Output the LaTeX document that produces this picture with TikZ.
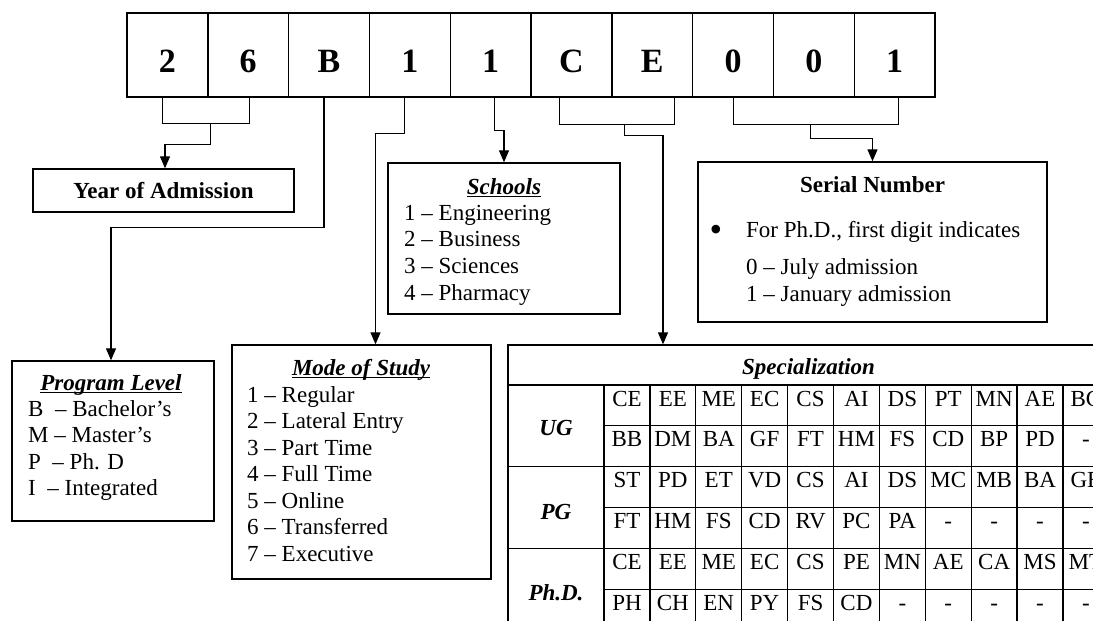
\documentclass[tikz,border=0pt]{standalone}
\usepackage{fontspec}
\setmainfont{Liberation Serif}
\usetikzlibrary{arrows.meta,calc}
\newcommand\myfont{\fontsize{23pt}{26.5pt}\selectfont}
\newcommand\mybig{\fontsize{34pt}{38pt}\selectfont\bfseries}
\newcommand\myul[1]{\leavevmode\setbox0\hbox{#1}\rlap{\rule[-3.2pt]{\wd0}{1.1pt}}\box0}
\begin{document}
\begin{tikzpicture}[x=1pt,y=-1pt,
  box/.style={draw, line width=1.4pt, inner sep=0pt},
  conn/.style={line width=1.3pt},
  arr/.style={conn, -{Triangle[length=12pt,width=10pt]}},
  lbl/.style={inner sep=0pt, font=\myfont, anchor=base west},
  ttl/.style={inner sep=0pt, font=\myfont\bfseries\itshape, anchor=base},
  cell/.style={inner sep=0pt, font=\myfont, anchor=base},
  grid/.style={line width=1.3pt},
]
\useasboundingbox (0,0) rectangle (1093,621);
\clip (0,0) rectangle (1093,621);

% top code boxes
\foreach \t [count=\i] in {2,6,B,1,1,C,E,0,0,1} {
  \node[box, minimum width=80.8pt, minimum height=84pt] (d\i) at ({127+80.8*(\i-0.5)},55) {};
  \node[inner sep=0pt, font=\mybig, anchor=base] (t\i) at ({127+80.8*(\i-0.5)},72) {\t};
}

% description boxes
\node[box, minimum width=261pt, minimum height=43pt, font=\myfont\bfseries] (year) at (163.5,190.5) {Year of Admission};
\node[box, minimum width=202pt, minimum height=160pt] (prog) at (113,441) {};
\node[box, minimum width=259pt, minimum height=234pt] (mode) at (361.5,462) {};
\node[box, minimum width=232pt, minimum height=151pt] (schools) at (504,238.5) {};
\node[box, minimum width=349pt, minimum height=160pt] (serial) at (872.5,242) {};

% Program Level
\node[ttl] (progt) at (111,390) {\myul{Program Level}};
\node[lbl] (p1) at (28,416) {B\ \ – Bachelor’s};
\node[lbl] (p2) at (28,442.5) {M – Master’s};
\node[lbl] (p3) at (28,469) {P\ \ – Ph. D};
\node[lbl] (p4) at (28,495.5) {I\ \ – Integrated};

% Mode of Study
\node[ttl] (modet) at (361,375) {\myul{Mode of Study}};
\foreach \t [count=\i] in {1 – Regular,2 – Lateral Entry,3 – Part Time,4 – Full Time,5 – Online,6 – Transferred,7 – Executive} {
  \node[lbl] (m\i) at (247,{402+26.5*(\i-1)}) {\t};
}

% Schools
\node[ttl] (schoolst) at (504,194) {\myul{Schools}};
\foreach \t [count=\i] in {1 – Engineering,2 – Business,3 – Sciences,4 – Pharmacy} {
  \node[lbl] (s\i) at (404,{220+26.7*(\i-1)}) {\t};
}

% Serial Number
\node[inner sep=0pt, font=\myfont\bfseries, anchor=base] (serialt) at (872.5,192) {Serial Number};
\node[inner sep=0pt, font=\fontsize{36pt}{36pt}\selectfont, anchor=base] (bul) at (716,241) {•};
\node[lbl] (sn1) at (746,237) {For Ph.D., first digit indicates};
\node[lbl] (sn2) at (746,274) {0 – July admission};
\node[lbl] (sn3) at (746,301) {1 – January admission};

% Specialization table
\node[draw, line width=1.3pt, minimum width=601pt, minimum height=40pt, inner sep=0pt] (spec) at (808.5,365) {};
\node[ttl] (spect) at (808.5,374) {Specialization};
\draw[grid] (508,385) -- (508,640) -- (1109,640) -- (1109,385);
\draw[grid] (604,385) -- (604,640);
\foreach \k in {1,...,10} { \draw[grid] ({604+45.9*\k},385) -- ({604+45.9*\k},640); }
\foreach \yy in {466.7,548.3} { \draw[grid] (508,\yy) -- (1109,\yy); }
\foreach \yy in {425.8,507.5,589.2} { \draw[grid] (604,\yy) -- (1109,\yy); }
\node[ttl] (ug) at (556,435.5) {UG};
\node[ttl] (pg) at (556,519) {PG};
\node[ttl] (phd) at (556,600.5) {Ph.D.};
\foreach \row [count=\r] in {
  {CE,EE,ME,EC,CS,AI,DS,PT,MN,AE,BC},
  {BB,DM,BA,GF,FT,HM,FS,CD,BP,PD,-},
  {ST,PD,ET,VD,CS,AI,DS,MC,MB,BA,GE},
  {FT,HM,FS,CD,RV,PC,PA,-,-,-,-},
  {CE,EE,ME,EC,CS,PE,MN,AE,CA,MS,MT},
  {PH,CH,EN,PY,FS,CD,-,-,-,-,-}} {
  \foreach \t [count=\c] in \row {
    \node[cell] (c\r-\c) at ({604+45.9*(\c-0.5)},{385+40.83*(\r-1)+21}) {\t};
  }
}

% connectors
\draw[conn] ([xshift=-5pt]d1.south) -- ++(0,26) -| ([xshift=1pt]d2.south);
\draw[arr] ($(d1.south)!0.5!(d2.south)+(3,26)$) -- ++(0,21) -| ([xshift=1.5pt]year.north);
\draw[arr] ([xshift=-5pt]d3.south) -- ++(0,130) -| ([xshift=-2pt]prog.north);
\draw[arr] ([xshift=-5pt]d4.south) -- ++(0,36) -| ([xshift=14pt]mode.north);
\draw[arr] ([xshift=4pt]d5.south) -- ++(0,33) -| (schools.north);
\draw[conn] ([xshift=-12pt]d6.south) -- ++(0,27) -| ([xshift=22pt]d7.south);
\draw[arr] ($(d6.south)+(53,27)$) -- ++(0,11) -| ([xshift=-145.5pt]spec.north);
\draw[conn] ([xshift=0.6pt]d8.south) -- ++(0,27) -| ([xshift=4pt]d10.south);
\draw[arr] ($(d8.south)!0.5!(d10.south)+(-3,27)$) -- ++(0,14) -| (serial.north);
\end{tikzpicture}
\end{document}
